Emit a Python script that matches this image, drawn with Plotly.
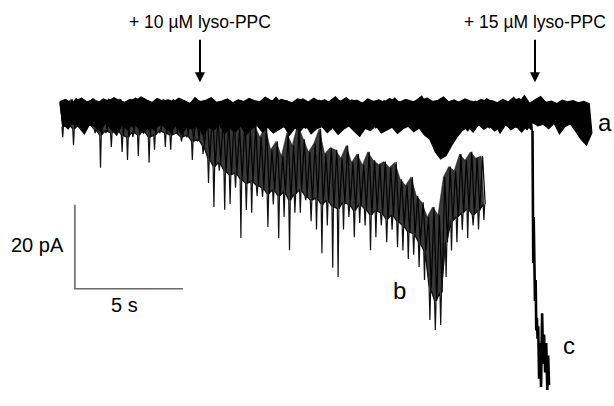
import plotly.graph_objects as go

# ---------------- data (time in s, current in pA) ----------------
DT = 0.25  # sampling bin (s)

# trace a: control baseline (upper / lower excursion in each bin)
a_hi = [2.5, 3.0, 2.2, 2.8, 3.3, 2.4, 2.9, 2.1, 3.1, 2.6,
        3.4, 2.7, 2.3, 3.0, 2.5, 3.6, 2.8, 2.2, 3.2, 2.6,
        2.9, 2.4, 3.3, 2.7, 2.1, 3.0, 2.5, 2.8, 3.4, 2.3,
        2.6, 3.1, 2.2, 2.9, 2.5, 3.2, 2.7, 2.4, 3.5, 2.8,
        2.3, 3.0, 2.6, 2.2, 3.1, 2.7, 2.4, 3.3, 2.5, 2.9,
        2.2, 3.0, 2.6, 3.4, 2.4, 2.8, 2.1, 3.1, 2.5, 2.9,
        2.3, 3.2, 2.7, 2.4, 3.0, 2.6, 2.2, 2.9, 3.3, 2.5,
        2.8, 3.6, 2.4, 2.9, 2.2, 3.1, 2.6, 2.3, 3.0, 2.5,
        2.7, 2.2, 3.0, 2.4, 2.8, 3.2, 2.5, 2.1, 2.9, 3.7,
        2.3, 2.6, 2.0, 2.8, 2.4, 2.7, 2.2, 2.5, 2.0]
a_lo = [-3.5, -1.8, -2.9, -2.2, -3.8, -2.5, -1.9, -3.2, -2.6, -4.1,
        -2.3, -3.0, -1.8, -3.6, -2.4, -2.9, -4.3, -2.1, -3.3, -2.7,
        -1.9, -3.5, -2.6, -3.1, -2.2, -4.0, -2.8, -2.0, -3.4, -2.5,
        -3.0, -2.2, -3.7, -2.6, -1.9, -3.2, -2.8, -4.2, -2.3, -3.0,
        -2.5, -3.6, -2.1, -3.1, -2.7, -3.9, -2.4, -2.0, -3.3, -2.8,
        -2.2, -3.5, -2.6, -3.0, -4.4, -2.5, -3.1, -2.2, -3.8, -2.7,
        -2.4, -3.3, -2.0, -3.7, -2.9, -2.3, -3.4, -2.6, -4.0, -2.8,
        -3.1, -2.2, -3.6, -2.5, -3.0, -4.5, -2.7, -3.2, -2.3, -3.8,
        -2.6, -5.0, -3.1, -2.4, -3.7, -2.8, -4.2, -2.5, -3.3, -2.9,
        -4.0, -2.7, -5.2, -3.5, -2.8, -4.6, -6.5, -7.9, -5.0]

# trace b: + 10 uM lyso-PPC  (top of trace, lower edge of dense part, spike tips)
b_hi = [2.4, 1.9, 3.0, 2.2, 2.7, 1.8, 3.2, 2.5, 2.0, 2.9, 2.3, 3.1, 1.9, 2.6,
        3.3, 2.1, 2.8, 2.4, 1.7, 3.0, 2.2,
        1.5, 2.0, 0.8, 1.6, 0.5, 1.2,
        -0.5, 0.5, -1.5, -0.8,
        -2.5, -1.0, -4.0, -2.0, -4.5, -3.0,
        -6.0, -3.5, -9.0, -7.0, -10.5, -5.0, -8.0, -3.0, -6.5, -9.5, -7.5,
        -4.0, -10.0, -8.5,
        -9.0, -11.0, -8.0, -12.0, -10.0, -12.6, -9.5, -11.5,
        -12.5, -11.8, -13.2, -12.0,
        -16.0, -17.5, -15.5,
        -20.0, -21.5,
        -25.0, -22.6, -24.5,
        -15.5,
        -13.0, -14.0,
        -10.0, -11.5, -9.5, -11.0, -10.5]
b_body = [-3.5, -3.0, -4.0, -3.2, -3.8, -3.0, -4.2,
          -5.5, -4.5, -5.0, -4.0, -5.5, -6.0, -4.8, -5.5, -4.5, -6.0, -5.5, -4.5, -5.0, -5.5,
          -5.0, -6.0, -5.5, -7.0, -6.5, -8.0,
          -11.0, -13.0, -12.0, -14.0, -15.0, -14.5, -16.0, -17.0, -16.5, -17.5,
          -18.0, -19.5, -18.5, -20.0, -19.0, -21.0, -19.5, -18.5, -20.0, -21.0, -20.5,
          -22.0, -21.0, -22.5,
          -23.0, -21.5, -22.0, -23.5, -22.0, -23.0, -24.5, -23.5, -24.0, -25.5, -24.5, -26.0,
          -27.0, -28.5, -29.0, -31.0, -33.0,
          -42.0, -45.0, -43.0,
          -31.0,
          -26.0, -25.0, -24.0, -23.0, -24.5, -23.5, -22.0]
b_lo = [-6.0, -2.8, -7.9, -3.0, -4.5, -3.2, -5.0, -13.3, -5.0, -8.3,
        -4.0, -9.5, -11.4, -6.0, -10.5, -5.0, -12.1, -9.0, -5.0, -8.3,
        -9.0, -5.0, -7.0, -6.0, -11.4, -7.0, -10.0, -16.9, -22.6, -14.0,
        -23.3, -21.9, -18.0, -30.0, -23.3, -24.0, -20.0, -20.2, -27.4, -22.0,
        -30.0, -25.0, -32.9, -24.0, -24.0, -21.0, -26.0, -28.0, -33.6, -27.0,
        -37.1, -39.3, -28.0, -25.0, -29.8, -26.4, -27.0, -32.9, -29.8, -27.0,
        -31.0, -28.0, -32.2, -33.0, -35.0, -34.0, -36.9, -40.0, -49.5, -51.9,
        -50.7, -39.3, -33.0, -31.0, -28.0, -30.0, -27.0, -28.0, -25.7]

# trace c: + 15 uM lyso-PPC (baseline part, then the large inward current)
c_hi = [2.0, 2.7, 1.6, 3.2, 2.3, 1.8, 2.9, 2.4, 1.5, 3.0,
        2.2, 2.8, 1.7, 2.5, 3.3, 2.0, 2.6, 1.9, 3.1, 2.4,
        1.6, 2.9, 2.2, 2.7, 1.8, 3.4, 2.3, 2.0, 2.8, 1.7,
        2.5, 3.0, 2.1, 2.6, 1.9, 3.2, 2.4, 1.6, 2.9, 2.2,
        3.5, 2.0, 2.7, 1.8, 2.5, 3.1, 2.3, 1.9, 2.8, 2.1,
        2.6, 3.6, 2.2, 1.7, 2.9, 2.4, 2.0, 3.0, 2.5, 1.8,
        2.7, 2.2, 3.3, 1.9, 2.6, 2.1, 2.8, 3.8, 1.5, 0.5,
        -1.0, -2.0, 0.0, 1.8, 2.5, 3.0, 2.1, 2.6, 1.9, 3.2,
        2.4, 2.0, 2.9, 2.3, 3.5, 2.1, 3.9, 2.0]
c_lo = [-2.8, -4.0, -2.3, -3.6, -5.2, -2.9, -3.4, -4.6, -2.5, -3.9,
        -5.5, -3.0, -4.2, -2.6, -3.7, -5.0, -3.2, -4.4, -2.7, -3.8,
        -4.9, -3.1, -5.3, -3.5, -4.1, -2.8, -5.6, -3.6, -4.3, -3.0,
        -5.1, -3.9, -4.7, -3.3, -5.4, -4.0, -3.2, -4.8, -3.6, -5.0,
        -4.2, -3.4, -5.5, -3.8, -4.5, -3.1, -5.2, -4.0, -3.5, -4.9,
        -3.7, -5.3, -4.1, -3.3, -4.6, -5.8, -3.9, -4.4, -3.2, -5.0,
        -4.3, -3.6, -5.1, -4.0, -3.4, -4.7, -3.8, -5.5, -6.5, -9.5,
        -11.2, -10.4, -8.0, -6.0, -4.4, -3.5, -4.8, -3.0, -4.1, -3.3,
        -4.5, -3.6, -3.0, -4.2, -3.4, -4.8, -3.2, -4.5]
c_tail_t = [21.90, 21.91, 21.93, 21.95, 21.97, 21.99, 22.02, 22.05, 22.08, 22.11,
            22.14, 22.18, 22.22, 22.27, 22.32, 22.37, 22.41, 22.46, 22.51, 22.56,
            22.60, 22.64]
c_tail_i = [-20.0, -36.0, -25.0, -36.5, -30.0, -45.0, -40.0, -52.0, -49.0, -54.0,
            -51.0, -63.5, -55.0, -65.5, -47.9, -60.0, -53.0, -62.0, -55.0, -66.2,
            -58.0, -65.0]

# annotations
add_times = [6.48, 21.99]
add_labels = ["+ 10 µM lyso-PPC", "+ 15 µM lyso-PPC"]
trace_names = ["a", "b", "c"]
trace_label_t = [25.25, 15.74, 23.55]
trace_label_i = [-2.4, -42.4, -55.5]
scale_t0, scale_i0 = 0.69, -42.1
scale_dt, scale_di = 5.0, 20.0

# axis windows (s, pA)
T_RANGE = [-2.778, 25.648]
I_RANGE = [-70.0, 26.667]


def band(hi, lo):
    """closed outline: upper excursions forward, lower excursions backward"""
    n = len(hi)
    xs = [k * DT for k in range(n)] + [k * DT + DT / 2 for k in range(n - 1, -1, -1)]
    ys = list(hi) + list(lo[::-1])
    return xs + [xs[0]], ys + [ys[0]]


def zigzag(hi, lo, phase=0.0):
    xs, ys = [], []
    for k, (h, l) in enumerate(zip(hi, lo)):
        xs += [k * DT + phase, k * DT + phase + DT / 2]
        ys += [h, l]
    return xs, ys


def spikes(base, tip, w=0.035):
    xs, ys = [], []
    for k, (b, s) in enumerate(zip(base, tip)):
        t = k * DT + DT / 2
        xs += [t - w, t, t + w]
        ys += [b, s, b]
    return xs, ys


fig = go.Figure()
K = dict(hoverinfo="skip", showlegend=False)

# trace b (drawn first, underneath)
xs, ys = band(b_hi, b_body)
fig.add_trace(go.Scatter(x=xs, y=ys, mode="lines", fill="toself", fillcolor="rgba(0,0,0,0.78)",
                         line=dict(color="rgba(0,0,0,0.6)", width=0.8), **K))
xs, ys = zigzag(b_hi, b_body, phase=DT / 4)
fig.add_trace(go.Scatter(x=xs, y=ys, mode="lines", line=dict(color="black", width=1.2), **K))
xs, ys = spikes(b_body, b_lo)
fig.add_trace(go.Scatter(x=xs, y=ys, mode="lines", line=dict(color="#111111", width=1.2), **K))

# trace a
xs, ys = band(a_hi, a_lo)
fig.add_trace(go.Scatter(x=xs, y=ys, mode="lines", fill="toself", fillcolor="black",
                         line=dict(color="black", width=1.2), **K))

# trace c
xs, ys = band(c_hi, c_lo)
fig.add_trace(go.Scatter(x=xs, y=ys, mode="lines", fill="toself", fillcolor="black",
                         line=dict(color="black", width=1.2), **K))
n = len(c_lo)
fig.add_trace(go.Scatter(x=[(n - 1) * DT + DT / 2] + c_tail_t, y=[c_lo[-1]] + c_tail_i,
                         mode="lines", line=dict(color="black", width=2.6), **K))

# scale bar
fig.add_trace(go.Scatter(
    x=[scale_t0, scale_t0, scale_t0 + scale_dt],
    y=[scale_i0 + scale_di, scale_i0, scale_i0],
    mode="lines", line=dict(color="#6a6a6a", width=1.6), **K))

FONT = "Arial, Liberation Sans, Helvetica, sans-serif"
ann = []
for t, lab in zip(add_times, add_labels):
    ann.append(dict(x=t, y=7.1, xref="x", yref="y", text="", showarrow=True,
                    ax=0, ay=-44, arrowhead=2, arrowsize=1.0, arrowwidth=2.0,
                    arrowcolor="black"))
    ann.append(dict(x=t, y=21.5, xref="x", yref="y", text=lab, showarrow=False,
                    font=dict(family=FONT, size=17.5, color="black")))
for nm, t, i in zip(trace_names, trace_label_t, trace_label_i):
    ann.append(dict(x=t, y=i, xref="x", yref="y", text=nm, showarrow=False,
                    font=dict(family=FONT, size=24, color="black")))
ann.append(dict(x=-1.06, y=-31.7, xref="x", yref="y", text="20 pA", showarrow=False,
                font=dict(family=FONT, size=20, color="black")))
ann.append(dict(x=scale_t0 + scale_dt / 2 - 0.2, y=-46.0, xref="x", yref="y", text="5 s",
                showarrow=False, font=dict(family=FONT, size=20, color="black")))

fig.update_layout(
    width=614, height=406, margin=dict(l=0, r=0, t=0, b=0),
    paper_bgcolor="white", plot_bgcolor="white",
    xaxis=dict(range=T_RANGE, visible=False, fixedrange=True),
    yaxis=dict(range=I_RANGE, visible=False, fixedrange=True),
    annotations=ann,
)
fig.write_html("out.html")
